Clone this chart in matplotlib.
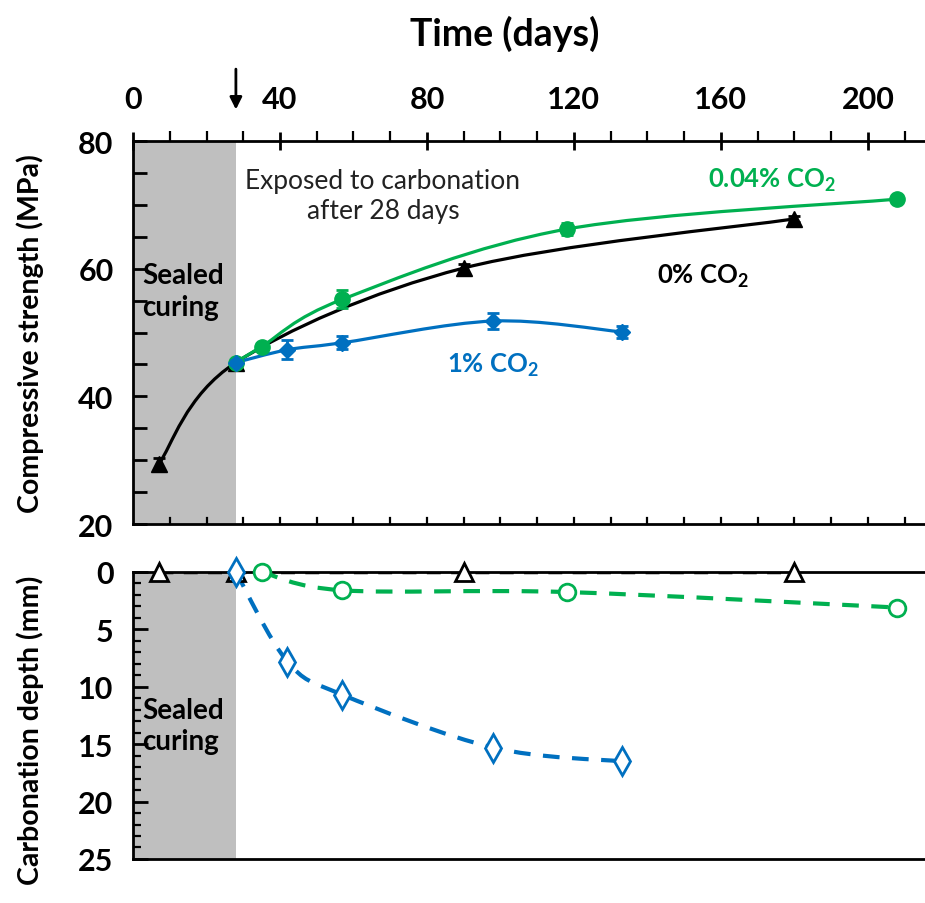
import numpy as np
import matplotlib
matplotlib.use("Agg")
import matplotlib.pyplot as plt
from matplotlib.path import Path
from matplotlib.patches import PathPatch
from matplotlib.ticker import MultipleLocator
import matplotlib.transforms as mtransforms

plt.rcParams["font.family"] = ["Lato", "DejaVu Sans"]
plt.rcParams["mathtext.fontset"] = "custom"
plt.rcParams["mathtext.rm"] = "Lato"
plt.rcParams["mathtext.bf"] = "Lato:bold"

# compressive strength (MPa)
days_0 = [7, 28, 90, 180]
str_0 = [29.4, 45.3, 60.1, 67.8]
err_0 = [1.0, 0.4, 0.7, 0.5]

days_004 = [28, 35, 57, 118, 208]
str_004 = [45.3, 47.8, 55.2, 66.2, 70.9]
err_004 = [0.4, 0.6, 1.4, 1.0, 0.5]

days_1 = [28, 42, 57, 98, 133]
str_1 = [45.3, 47.3, 48.4, 51.8, 50.1]
err_1 = [0.4, 1.5, 1.0, 1.3, 1.0]

# carbonation depth (mm)
ddays_0 = [7, 28, 90, 180]
depth_0 = [0, 0, 0, 0]
ddays_004 = [35, 57, 118, 208]
depth_004 = [0.0, 1.6, 1.75, 3.1]
ddays_1 = [28, 42, 57, 98, 133]
depth_1 = [0.0, 7.8, 10.7, 15.3, 16.5]

BLACK = "#000000"
GREEN = "#00B050"
BLUE = "#0070C0"
GREY = "#BFBFBF"


def smooth_path(x, y):
    # Excel-like smoothed line (Catmull-Rom as cubic Bezier)
    pts = np.column_stack([x, y]).astype(float)
    n = len(pts)
    verts = [pts[0]]
    codes = [Path.MOVETO]
    for i in range(n - 1):
        p0 = pts[i - 1] if i > 0 else pts[i]
        p3 = pts[i + 2] if i + 2 < n else pts[i + 1]
        c1 = pts[i] + (pts[i + 1] - p0) / 6
        c2 = pts[i + 1] - (p3 - pts[i]) / 6
        verts += [c1, c2, pts[i + 1]]
        codes += [Path.CURVE4] * 3
    return Path(verts, codes)


def add_curve(ax, x, y, color, ls="-", lw=2.3):
    ax.add_patch(PathPatch(smooth_path(x, y), fill=False, edgecolor=color,
                           lw=lw, linestyle=ls, zorder=3, clip_on=False))


fig = plt.figure(figsize=(9.25, 9.04), dpi=100)
ax1 = fig.add_axes([0.1438, 0.4192, 0.86, 0.4237])
ax2 = fig.add_axes([0.1438, 0.0487, 0.86, 0.3175])

xmax = 216.5
for ax in (ax1, ax2):
    ax.set_xlim(0, xmax)
    ax.axvspan(0.4, 28, color=GREY, zorder=0, lw=0)
    ax.spines["right"].set_visible(False)
    for s in ("left", "top", "bottom"):
        ax.spines[s].set_linewidth(2)

# ---- upper panel
ax1.set_ylim(20, 80)
add_curve(ax1, days_0, str_0, BLACK)
add_curve(ax1, days_004, str_004, GREEN)
add_curve(ax1, days_1, str_1, BLUE)
ax1.errorbar(days_0, str_0, yerr=err_0, fmt="^", color=BLACK, ms=12,
             capsize=4, elinewidth=2, capthick=2, zorder=4)
ax1.errorbar(days_004, str_004, yerr=err_004, fmt="o", color=GREEN, ms=11,
             capsize=4, elinewidth=2, capthick=2, zorder=4)
ax1.errorbar(days_1, str_1, yerr=err_1, fmt="D", color=BLUE, ms=8,
             capsize=4, elinewidth=2, capthick=2, zorder=5)

ax1.xaxis.tick_top()
ax1.xaxis.set_major_locator(MultipleLocator(40))
ax1.xaxis.set_minor_locator(MultipleLocator(10))
ax1.tick_params(axis="x", which="major", top=True, bottom=False, direction="inout",
                length=13, width=2, labelsize=22, pad=14)
ax1.tick_params(axis="x", which="minor", top=True, bottom=False, direction="out",
                length=7, width=1.6)
ax1.yaxis.set_major_locator(MultipleLocator(20))
ax1.yaxis.set_minor_locator(MultipleLocator(5))
ax1.tick_params(axis="y", which="both", direction="in", length=10, width=2,
                labelsize=22, pad=14)
for lab in ax1.get_xticklabels() + ax1.get_yticklabels():
    lab.set_fontweight("bold")
# inner ticks on the bottom spine
for d in np.arange(10, xmax, 10):
    ax1.plot([d, d], [20, 20.9], color=BLACK, lw=1.6, zorder=6, clip_on=False)

fig.text(0.546, 0.962, "Time (days)", fontsize=27, fontweight="bold",
         ha="center", va="center")
ax1.set_ylabel("Compressive strength (MPa)", fontsize=20.5, fontweight="bold")
ax1.yaxis.set_label_coords(-0.112, 0.5)

ax1.text(2.5, 56.5, "Sealed\ncuring", fontsize=20, fontweight="bold", va="center",
         ha="left", linespacing=1.25)
ax1.text(68, 71.4, "Exposed to carbonation\nafter 28 days", fontsize=19,
         ha="center", va="center", linespacing=1.25, color="#222222")
ax1.text(174, 74.0, r"0.04% CO$_\mathbf{2}$", fontsize=18.5, fontweight="bold",
         color=GREEN, ha="center", va="center")
ax1.text(155, 59.0, r"0% CO$_\mathbf{2}$", fontsize=18.5, fontweight="bold",
         color=BLACK, ha="center", va="center")
ax1.text(98, 45.0, r"1% CO$_\mathbf{2}$", fontsize=18.5, fontweight="bold",
         color=BLUE, ha="center", va="center")

trans = mtransforms.blended_transform_factory(ax1.transData, ax1.transAxes)
ax1.annotate("", xy=(28, 1.075), xytext=(28, 1.195), xycoords=trans, textcoords=trans,
             arrowprops=dict(arrowstyle="-|>", color=BLACK, lw=2, mutation_scale=18))

# ---- lower panel
ax2.set_ylim(25, 0)
ax2.plot(ddays_0, depth_0, color=BLACK, ls=(0, (4, 3)), lw=2.5, zorder=3)
add_curve(ax2, ddays_004, depth_004, GREEN, ls=(0, (4, 3)), lw=3)
add_curve(ax2, ddays_1, depth_1, BLUE, ls=(0, (4, 3)), lw=3)
ax2.plot(ddays_0, depth_0, "^", ms=13, mfc="white", mec=BLACK, mew=2,
         ls="none", zorder=6, clip_on=False)
ax2.plot(ddays_004, depth_004, "o", ms=12, mfc="white", mec=GREEN, mew=2,
         ls="none", zorder=6, clip_on=False)
ax2.plot(ddays_1, depth_1, "d", ms=14, mfc="white", mec=BLUE, mew=2,
         ls="none", zorder=7, clip_on=False)

ax2.set_xticks([])
ax2.yaxis.set_major_locator(MultipleLocator(5))
ax2.yaxis.set_minor_locator(MultipleLocator(1))
ax2.tick_params(axis="y", which="major", direction="in", length=11, width=2,
                labelsize=22, pad=14)
ax2.tick_params(axis="y", which="minor", direction="in", length=6, width=1.6)
for lab in ax2.get_yticklabels():
    lab.set_fontweight("bold")
ax2.set_ylabel("Carbonation depth (mm)", fontsize=20.5, fontweight="bold")
ax2.yaxis.set_label_coords(-0.112, 0.45)
ax2.text(2.5, 13.4, "Sealed\ncuring", fontsize=20, fontweight="bold", va="center",
         ha="left", linespacing=1.25)

fig.savefig("out.png", dpi=100)
